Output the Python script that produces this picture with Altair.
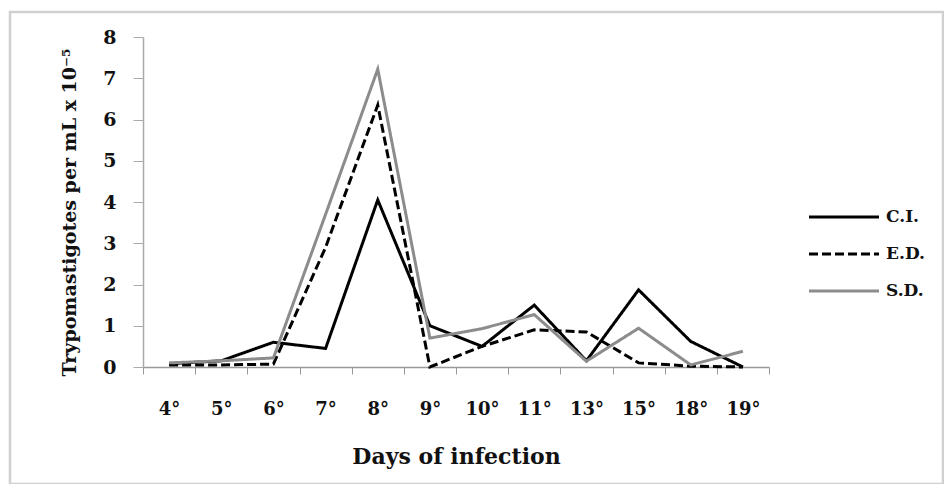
import altair as alt
import pandas as pd

days = ["4°", "5°", "6°", "7°", "8°", "9°", "10°", "11°", "13°", "15°", "18°", "19°"]
series_names = ["C.I.", "E.D.", "S.D."]
ci = [0.08, 0.15, 0.6, 0.45, 4.05, 1.0, 0.5, 1.5, 0.15, 1.87, 0.62, 0.0]
ed = [0.05, 0.05, 0.07, 2.9, 6.35, 0.0, 0.5, 0.9, 0.85, 0.1, 0.02, 0.0]
sd = [0.1, 0.15, 0.22, 3.7, 7.22, 0.7, 0.93, 1.27, 0.14, 0.94, 0.05, 0.38]

rows = []
for name, vals in zip(series_names, [ci, ed, sd]):
    for d, v in zip(days, vals):
        rows.append({"day": d, "value": v, "series": name})
df = pd.DataFrame(rows)

FONT = "DejaVu Serif"

legend_opts = dict(
    title=None,
    orient="none",
    legendX=682,
    legendY=161,
    symbolType="M-2,0H2",
    symbolSize=1225,
    symbolStrokeWidth=3,
    labelFont=FONT,
    labelFontSize=17,
    labelFontWeight="bold",
    labelColor="#111111",
    labelOffset=23,
    rowPadding=10,
)

lines = alt.Chart(df).mark_line(strokeWidth=3).encode(
    x=alt.X(
        "day:N",
        sort=days,
        scale=alt.Scale(type="band", paddingInner=0, paddingOuter=0),
        axis=alt.Axis(
            title="Days of infection",
            labelAngle=0,
            tickBand="extent",
            tickSize=7,
            labelPadding=26,
            labelFont=FONT,
            labelFontSize=18,
            labelFontWeight="bold",
            labelColor="#111111",
            titleFont=FONT,
            titleFontSize=22,
            titleFontWeight="bold",
            titleColor="#111111",
            titleBaseline="alphabetic",
            titleY=96,
            domainColor="#999999",
            domainWidth=1.5,
            tickColor="#999999",
            grid=False,
        ),
    ),
    y=alt.Y(
        "value:Q",
        scale=alt.Scale(domain=[0, 8], nice=False),
        axis=alt.Axis(
            title="Trypomastigotes per mL x 10⁻⁵",
            values=[0, 1, 2, 3, 4, 5, 6, 7, 8],
            tickSize=10,
            labelPadding=17,
            labelFont=FONT,
            labelFontSize=19,
            labelFontWeight="bold",
            labelColor="#111111",
            titleFont=FONT,
            titleFontSize=19,
            titleFontWeight="bold",
            titleColor="#111111",
            titleAngle=270,
            titleBaseline="alphabetic",
            titleAlign="center",
            titleX=-68,
            titleY=175,
            domainColor="#aaaaaa",
            domainWidth=1.5,
            tickColor="#aaaaaa",
            grid=False,
        ),
    ),
    color=alt.Color(
        "series:N",
        scale=alt.Scale(domain=series_names, range=["#000000", "#000000", "#8c8c8c"]),
        legend=alt.Legend(**legend_opts),
    ),
    strokeDash=alt.StrokeDash(
        "series:N",
        scale=alt.Scale(domain=series_names, range=[[1, 0], [9, 4], [1, 0]]),
        legend=alt.Legend(**legend_opts),
    ),
)

border = alt.Chart(alt.Data(values=[{"b": 1}])).mark_rect(
    fillOpacity=0, stroke="#d0d0d0", strokeWidth=2.5
).encode(
    x=alt.value(-133), x2=alt.value(800), y=alt.value(-25), y2=alt.value(447)
)

chart = alt.layer(border, lines).properties(
    width=626,
    height=330,
    autosize=alt.AutoSizeParams(type="none"),
    padding={"left": 135, "top": 29, "right": 175, "bottom": 117},
    background="white",
).configure_view(strokeWidth=0)

chart.save("out.html", embed_options={"renderer": "svg", "actions": False})
